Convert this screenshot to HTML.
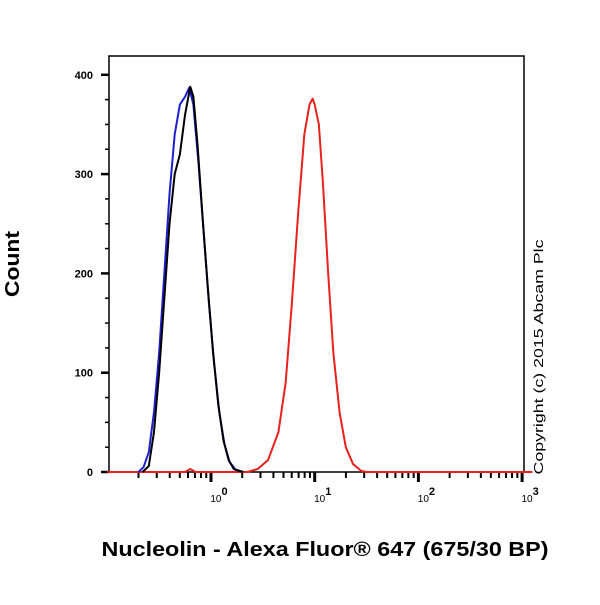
<!DOCTYPE html>
<html><head><meta charset="utf-8"><style>
body{margin:0;background:#fff;}
svg text{font-family:"Liberation Sans",sans-serif;}
</style></head><body>
<svg id="chart" width="600" height="600">
<rect x="109" y="56" width="415" height="416" fill="none" stroke="#000" stroke-width="1.5"/>
<g id="axes"></g>
<g id="series"></g>
<text x="19" y="264" font-size="20" font-weight="bold" transform="rotate(-90 19 264)" text-anchor="middle" textLength="66" lengthAdjust="spacingAndGlyphs">Count</text>
<text x="325" y="556" font-size="20" font-weight="bold" text-anchor="middle" textLength="447" lengthAdjust="spacingAndGlyphs">Nucleolin - Alexa Fluor® 647 (675/30 BP)</text>
<text x="543" y="357" font-size="13" transform="rotate(-90 543 357)" text-anchor="middle" textLength="235" lengthAdjust="spacingAndGlyphs">Copyright (c) 2015 Abcam Plc</text>
</svg>
<script>
const yTicks=[0,100,200,300,400];
const xDecades=[0,1,2,3];
const blueX=[-0.70,-0.65,-0.60,-0.55,-0.50,-0.45,-0.40,-0.35,-0.30,-0.25,-0.21,-0.17,-0.12,-0.07,-0.02,0.03,0.08,0.13,0.18,0.24,0.31];
const blueY=[0,5,20,60,120,200,280,340,370,378,387,370,310,240,170,110,60,28,10,2,0];
const blackX=[-0.66,-0.60,-0.55,-0.50,-0.45,-0.40,-0.35,-0.30,-0.25,-0.20,-0.17,-0.13,-0.08,-0.03,0.02,0.07,0.12,0.17,0.22,0.31];
const blackY=[0,6,40,100,175,250,300,320,360,388,378,330,255,185,120,68,32,12,3,0];
const redX=[-1,-0.25,-0.20,-0.15,0.35,0.45,0.55,0.65,0.72,0.78,0.84,0.90,0.95,0.98,1.00,1.04,1.08,1.13,1.18,1.24,1.30,1.37,1.45,1.50,3.1];
const redY=[0,0,3,0,0,3,12,40,90,170,260,340,370,376,370,350,290,200,120,60,25,8,1,0,0];
const X=v=>211+v*103.7, Y=v=>472-v*0.993;
const ns="http://www.w3.org/2000/svg";
const axes=document.getElementById('axes'), ser=document.getElementById('series');
function mk(tag,attrs,parent){const e=document.createElementNS(ns,tag);for(const k in attrs)e.setAttribute(k,attrs[k]);parent.appendChild(e);return e;}
yTicks.forEach(t=>{
 const l=mk('line',{x1:101,x2:109,y1:Y(t),y2:Y(t),stroke:'#000','stroke-width':2.5},axes);
 
 
 const tx=mk('text',{x:93,y:Y(t)+4,'font-size':11,'font-weight':'bold','text-anchor':'end'},axes);tx.textContent=t;
 
 
 if(t<400){[25,50,75].forEach(o=>{const m=mk('line',{x1:105,x2:109,y1:Y(t+o),y2:Y(t+o),stroke:'#000','stroke-width':1.5},axes);
 
 });}
});
for(let d=-1;d<3;d++){for(let k=2;k<=9;k++){const x=X(d+Math.log10(k));
 const m=mk('line',{x1:x,x2:x,y1:472,y2:478,stroke:'#000','stroke-width':2},axes);
 
 }}
xDecades.forEach(d=>{const x=X(d);
 const l=mk('line',{x1:x,x2:x,y1:472,y2:482,stroke:'#000','stroke-width':3},axes);
 
 
 const tx=mk('text',{x:x+8,y:502,'font-size':10,'text-anchor':'middle'},axes);tx.textContent='10';
 
 
 const sp=mk('tspan',{dy:-7,'font-size':11,'font-weight':'bold'},tx);sp.textContent=d;
});
function line(xs,ys,color,name){
 const p=mk('polyline',{points:xs.map((v,i)=>X(v)+','+Y(ys[i])).join(' '),fill:'none',stroke:color,'stroke-width':2,'stroke-linejoin':'round'},ser);
 
 
}
line(redX,redY,'#e8201e','red-histogram');
line(blueX,blueY,'#1f1fd0','blue-histogram');
line(blackX,blackY,'#000','black-histogram');
</script>
</body></html>
